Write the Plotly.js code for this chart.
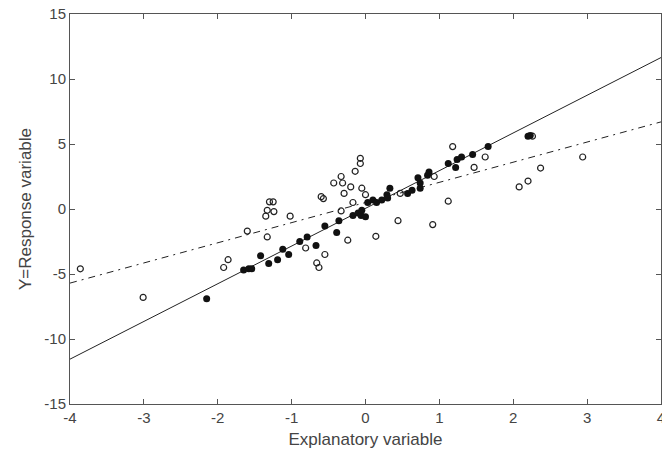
<!DOCTYPE html>
<html>
<head>
<meta charset="utf-8">
<script src="https://cdn.plot.ly/plotly-3.0.1.min.js"></script>
<style>html,body{margin:0;padding:0;background:#fff;}#chart{width:662px;height:456px;}</style>
</head>
<body>
<div id="chart"></div>
<script>
// Open-circle observations
const openX = [-3.86, -3.01, -1.92, -1.86, -1.60, -1.30, -1.25, -1.33, -1.24, -1.35, -1.02, -1.33,
  -0.07, -0.07, -0.14, -0.33, -0.43, -0.31, -0.20, -0.05, -0.29, -0.60, -0.57, -0.17, 0.00, -0.33,
  -0.24, 0.14, -0.81, -0.55, -0.66, -0.63, 1.18, 1.62, 1.47, 0.93, 1.12, 0.44, 0.91, 0.47,
  2.26, 2.94, 2.37, 2.20, 2.08];
const openY = [-4.6, -6.8, -4.5, -3.9, -1.7, 0.55, 0.55, -0.1, -0.2, -0.55, -0.55, -2.15,
  3.9, 3.5, 2.9, 2.5, 2.0, 2.0, 1.7, 1.6, 1.2, 0.95, 0.8, 0.5, 1.1, -0.15,
  -2.4, -2.1, -3.0, -3.5, -4.15, -4.5, 4.8, 4.0, 3.2, 2.5, 0.6, -0.9, -1.2, 1.2,
  5.6, 4.0, 3.15, 2.15, 1.7];
// Filled-circle observations
const filledX = [-2.15, -1.65, -1.58, -1.54, -1.42, -1.31, -1.19, -1.12, -1.04, -0.89, -0.79, -0.67,
  -0.55, -0.39, -0.36, -0.17, -0.10, -0.06, 0.00, -0.05, 0.03, 0.10, 0.15, 0.22, 0.29, 0.30, 0.33,
  0.57, 0.63, 0.74, 0.74, 0.71, 0.84, 0.86, 1.12, 1.22, 1.24, 1.30, 1.45, 1.66, 2.20, 2.23];
const filledY = [-6.9, -4.7, -4.6, -4.6, -3.6, -4.2, -3.9, -3.1, -3.5, -2.5, -2.15, -2.8,
  -1.3, -1.8, -0.9, -0.5, -0.3, -0.5, -0.6, -0.1, 0.5, 0.7, 0.5, 0.7, 1.1, 0.85, 1.6,
  1.2, 1.45, 1.6, 2.0, 2.4, 2.6, 2.85, 3.5, 3.2, 3.8, 4.0, 4.2, 4.8, 5.6, 5.65];
// Fitted lines (end points)
const lineX = [-4, 4];
const solidY = [-11.55, 11.65];
const dashY = [-5.7, 6.7];

const tickVals = [-4, -3, -2, -1, 0, 1, 2, 3, 4];
const yTickVals = [-15, -10, -5, 0, 5, 10, 15];

const font = {family: 'Liberation Sans, Arial, sans-serif', color: '#444', size: 15};

const traces = [
  {x: lineX, y: solidY, mode: 'lines', line: {color: '#222', width: 1}, hoverinfo: 'skip'},
  {x: lineX, y: dashY, mode: 'lines', line: {color: '#222', width: 1, dash: '7px,5px,2px,5px'}, hoverinfo: 'skip'},
  {x: openX, y: openY, mode: 'markers', marker: {symbol: 'circle-open', size: 6, color: '#222', line: {width: 1.2, color: '#222'}}},
  {x: filledX, y: filledY, mode: 'markers', marker: {symbol: 'circle', size: 7, color: '#111'}}
];

const axisCommon = {
  showgrid: false, zeroline: false, showline: true, linecolor: '#555', linewidth: 1,
  mirror: 'ticks', ticks: 'inside', ticklen: 5, tickcolor: '#555', tickwidth: 1,
  tickfont: font, ticklabeloverflow: 'allow'
};

const layout = {
  width: 662, height: 456,
  margin: {l: 70, r: 1, t: 14, b: 52},
  paper_bgcolor: '#fff', plot_bgcolor: '#fff',
  showlegend: false,
  font: font,
  xaxis: Object.assign({}, axisCommon, {
    range: [-4, 4], tickvals: tickVals, ticktext: tickVals.map(String), automargin: false,
    title: {text: 'Explanatory variable', font: {family: font.family, color: '#444', size: 17}, standoff: 8}
  }),
  yaxis: Object.assign({}, axisCommon, {
    range: [-15, 15], tickvals: yTickVals, ticktext: yTickVals.map(String), automargin: false,
    title: {text: 'Y=Response variable', font: {family: font.family, color: '#444', size: 17}, standoff: 8}
  })
};

Plotly.newPlot('chart', traces, layout, {displayModeBar: false, staticPlot: true});
</script>
</body>
</html>
